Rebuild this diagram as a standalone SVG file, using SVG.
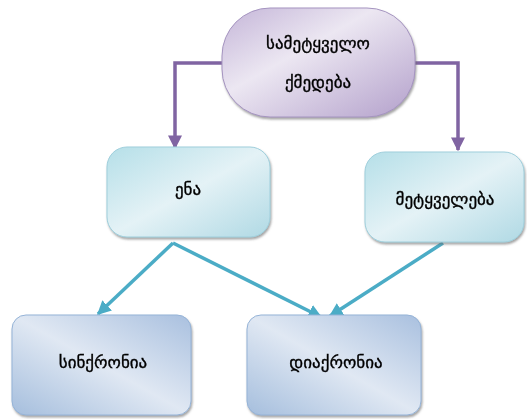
<svg xmlns="http://www.w3.org/2000/svg" width="527" height="419" viewBox="0 0 527 419">
<defs>
<linearGradient id="gPurple" x1="0" y1="0" x2="1" y2="1">
<stop offset="0" stop-color="#c4b5d8"/>
<stop offset="0.4" stop-color="#ece7f2"/>
<stop offset="1" stop-color="#b3a0cb"/>
</linearGradient>
<linearGradient id="gAqua" x1="0" y1="0" x2="1" y2="1">
<stop offset="0" stop-color="#b5dfe8"/>
<stop offset="0.5" stop-color="#e4f2f6"/>
<stop offset="1" stop-color="#b0d9e4"/>
</linearGradient>
<linearGradient id="gBlue" x1="0" y1="1" x2="1" y2="0">
<stop offset="0" stop-color="#a5bedd"/>
<stop offset="0.5" stop-color="#e0e8f3"/>
<stop offset="1" stop-color="#a9c0df"/>
</linearGradient>
<filter id="sh" x="-10%" y="-10%" width="120%" height="130%">
<feDropShadow dx="1" dy="2" stdDeviation="1" flood-color="#6b6b6b" flood-opacity="0.6"/>
</filter>
<marker id="aP" viewBox="0 0 10 10" refX="9" refY="5" markerWidth="4" markerHeight="4" orient="auto" markerUnits="strokeWidth">
<path d="M0,0 L10,5 L0,10 Z" fill="#8064a2"/>
</marker>
<marker id="aB" viewBox="0 0 10 10" refX="9" refY="5" markerWidth="4" markerHeight="4" orient="auto" markerUnits="strokeWidth">
<path d="M0,0 L10,5 L0,10 Z" fill="#4bacc6"/>
</marker>
</defs>
<style>
text{font-family:"DejaVu Sans","Noto Sans",sans-serif;font-size:17px;fill:#000;stroke:#000;stroke-width:0.35;text-anchor:middle;dominant-baseline:central}
.p{fill:none;stroke:#8064a2;stroke-width:3.5}
.b{fill:none;stroke:#4bacc6;stroke-width:3.5}
</style>
<g id="connectors">
<path class="p" d="M224,63 H175 V148" marker-end="url(#aP)"/>
<path class="p" d="M414,63 H458 V150" marker-end="url(#aP)"/>
<path class="b" d="M173,243 L98,314" marker-end="url(#aB)"/>
<path class="b" d="M173,243 L321,317" marker-end="url(#aB)"/>
<path class="b" d="M443,243 L330,316" marker-end="url(#aB)"/>
</g>
<g id="n1" filter="url(#sh)">
<rect x="222" y="8" width="193" height="109" rx="48" ry="48" fill="url(#gPurple)" stroke="#a594c0" stroke-width="1"/>
<text x="318" y="43">სამეტყველო</text>
<text x="318" y="82">ქმედება</text>
</g>
<g id="n2" filter="url(#sh)">
<rect x="107" y="147" width="163" height="90" rx="20" ry="20" fill="url(#gAqua)" stroke="#9fcfdc" stroke-width="1"/>
<text x="188" y="189">ენა</text>
</g>
<g id="n3" filter="url(#sh)">
<rect x="365" y="152" width="159" height="90" rx="20" ry="20" fill="url(#gAqua)" stroke="#9fcfdc" stroke-width="1"/>
<text x="445" y="199">მეტყველება</text>
</g>
<g id="n4" filter="url(#sh)">
<rect x="12" y="315" width="179" height="100" rx="14" ry="14" fill="url(#gBlue)" stroke="#95b3d7" stroke-width="1"/>
<text x="103" y="362">სინქრონია</text>
</g>
<g id="n5" filter="url(#sh)">
<rect x="247" y="315" width="174" height="100" rx="14" ry="14" fill="url(#gBlue)" stroke="#95b3d7" stroke-width="1"/>
<text x="336" y="362">დიაქრონია</text>
</g>
</svg>
